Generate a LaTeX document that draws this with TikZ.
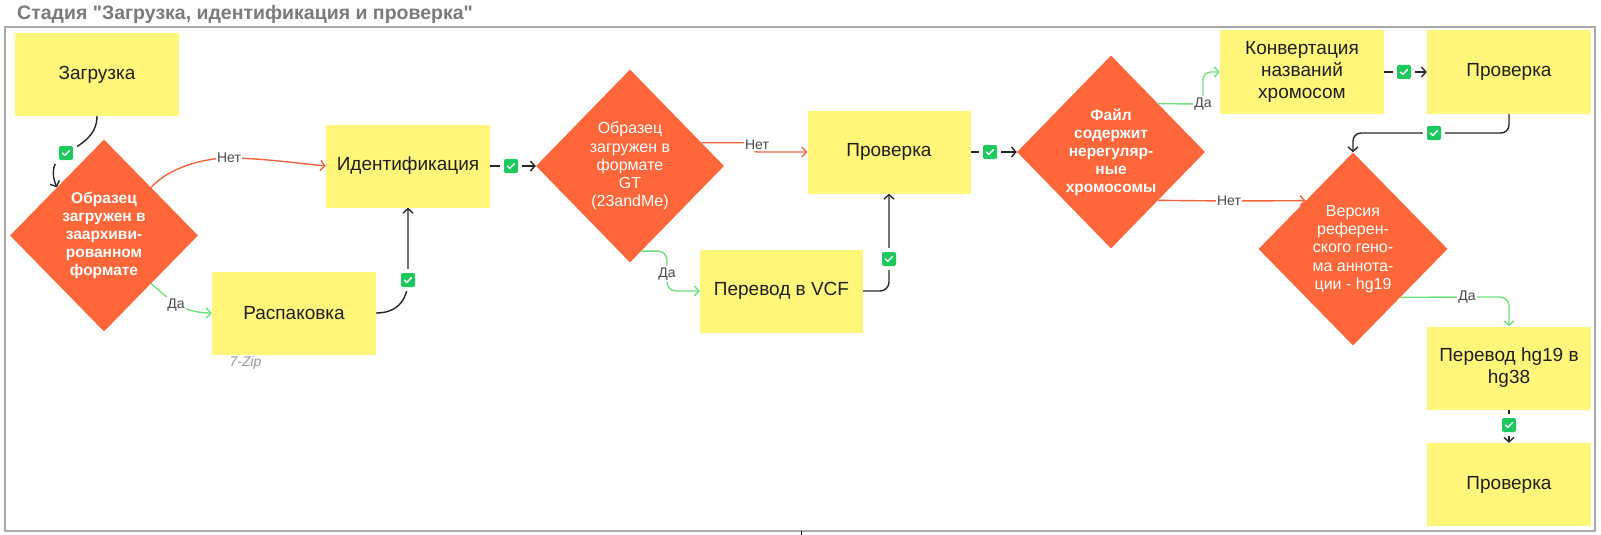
\documentclass[tikz,border=0pt]{standalone}
\usepackage{fontspec}
\setmainfont{Liberation Sans}[Ligatures=TeXOff]
\usetikzlibrary{arrows.meta,shapes.geometric,calc,backgrounds}
\definecolor{boxy}{HTML}{FFF67A}
\definecolor{diaor}{HTML}{FF673B}
\definecolor{lred}{HTML}{F0643F}
\definecolor{lgreen}{HTML}{6FE07C}
\definecolor{lblack}{HTML}{262626}
\definecolor{chkg}{HTML}{1DC95F}
\definecolor{ttl}{HTML}{7A7A7A}
\definecolor{frm}{HTML}{A8A8A8}
\definecolor{lbltxt}{HTML}{4A4A4A}
\begin{document}
\begin{tikzpicture}[x=1pt,y=-1pt,
  box/.style={rectangle, fill=boxy, minimum width=164pt, minimum height=83pt, inner sep=0pt, align=center, text=black!88, font=\fontsize{19}{22}\selectfont},
  dia/.style={diamond, fill=diaor, inner sep=0pt, minimum width=188pt, minimum height=193pt},
  dtxt/.style={text=white, align=center, font=\fontsize{16}{18.2}\selectfont},
  dtxtb/.style={text=white, align=center, font=\fontsize{15.5}{18}\selectfont\bfseries},
  conn/.style={line width=1.4pt, -{Straight Barb[length=4.5pt,width=10pt]}},
  cblack/.style={conn, draw=lblack},
  cred/.style={conn, draw=lred},
  cgreen/.style={conn, draw=lgreen},
  lbl/.style={fill=white, inner sep=1.5pt, text=lbltxt, font=\fontsize{14}{15}\selectfont},
  chk/.style={rectangle, fill=white, minimum width=22pt, minimum height=22pt, inner sep=0pt,
    path picture={
      \fill[chkg, rounded corners=2pt] ($(path picture bounding box.center)+(-7,-7)$) rectangle +(14,14);
      \draw[white, line width=1.4pt, line cap=round, line join=round]
        ($(path picture bounding box.center)+(-3.6,0)$) -- ++(2.4,2.4) -- ++(4.6,-4.8);
    }},
]
\useasboundingbox (0,0) rectangle (1601,535);

% title and frame
\node[anchor=base west, inner sep=0pt, text=ttl, font=\fontsize{19.5}{21}\selectfont\bfseries] (title) at (17,19.5) {Стадия "Загрузка, идентификация и проверка"};
\draw[frm, line width=2pt] (5,27) rectangle (1595,531);
\draw[black, line width=1pt] (801,531) -- (801,535);

% boxes
\node[box] (b1) at (97,74.5) {Загрузка};
\node[box] (id) at (408,166) {Идентификация};
\node[box] (rasp) at (294,313) {Распаковка};
\node[box, minimum width=163pt] (prov1) at (889,152) {Проверка};
\node[box, minimum width=163pt] (vcf) at (781.5,291) {Перевод в VCF};
\node[box] (konv) at (1302,72) {Конвертация\\названий\\хромосом};
\node[box] (prov2) at (1509,72) {Проверка};
\node[box] (hg) at (1509,368) {Перевод hg19 в\\hg38};
\node[box] (prov3) at (1509,484.5) {Проверка};

% diamonds
\node[dia, minimum height=192pt] (d1) at (104,235.5) {};
\node[dtxtb] (d1t) at (d1.center) {Образец\\загружен в\\заархиви-\\рованном\\формате};
\node[dia] (d2) at (630,166) {};
\node[dtxt] (d2t) at (d2.center) {Образец\\загружен в\\формате\\GT\\(23andMe)};
\node[dia] (d3) at (1111,152) {};
\node[dtxtb] (d3t) at (d3.center) {Файл\\содержит\\нерегуляр-\\ные\\хромосомы};
\node[dia, minimum width=189pt] (d4) at (1353,249) {};
\node[dtxt] (d4t) at (d4.center) {Версия\\референ-\\ского гено-\\ма аннота-\\ции - hg19};

% annotation
\node[text=black!40, font=\fontsize{14}{15}\selectfont\itshape] (zip) at (245.5,363) {7-Zip};

% labels
\node[lbl] (l1) at (229,158) {Нет};
\node[lbl] (l2) at (176,305) {Да};
\node[lbl] (l3) at (757,145) {Нет};
\node[lbl] (l4) at (667,274) {Да};
\node[lbl] (l5) at (1203,104) {Да};
\node[lbl] (l6) at (1229,201) {Нет};
\node[lbl] (l7) at (1467,297) {Да};

% checks
\node[chk] (c1) at (66,153) {};
\node[chk] (c2) at (408,280) {};
\node[chk] (c3) at (511,166) {};
\node[chk] (c4) at (889,259) {};
\node[chk] (c5) at (990,152) {};
\node[chk] (c6) at (1404,72) {};
\node[chk] (c7) at (1434,133) {};
\node[chk] (c8) at (1509,425) {};

\coordinate (d2a) at ($(d2.north)!0.76!(d2.east)$);

\begin{scope}[on background layer]
\draw[cblack] (b1.south) .. controls +(0,20) and +(14,-8) .. (c1.center) .. controls +(-14,8) and +(-6,-14) .. ($(d1.north)!0.5!(d1.west)$);
\draw[cred] ($(d1.north)!0.5!(d1.east)$) .. controls +(18,-20) and +(-25,0) .. (l1.center) .. controls +(30,0) and +(-30,-3) .. (id.west);
\draw[cgreen] ($(d1.south)!0.5!(d1.east)$) -- (l2.center) .. controls +(14,6) and +(-12,0) .. (rasp.west);
\draw[cblack] (rasp.east) .. controls +(24,0) and +(0,16) .. (c2.center) -- (id.south);
\draw[cblack] (id.east) -- (c3.center) -- (d2.west);
\draw[cred] (d2a) -- (l3.center |- d2a) .. controls +(7,0) and +(-7,0) .. (l3.center |- prov1.west) -- (prov1.west);
\draw[cgreen, rounded corners=9pt] ($(d2.south)!0.12!(d2.east)$) -| (l4.center) |- (vcf.west);
\draw[cblack, rounded corners=9pt] (vcf.east) -| (c4.center) -- (prov1.south);
\draw[cblack] (prov1.east) -- (c5.center) -- (d3.west);
\draw[cgreen, rounded corners=8pt] ($(d3.north)!0.5!(d3.east)$) -- (l5.center) |- (konv.west);
\draw[cblack] (konv.east) -- (c6.center) -- (prov2.west);
\draw[cblack, rounded corners=8pt] (prov2.south) |- (c7.center) -| (d4.north);
\draw[cred] ($(d3.south)!0.5!(d3.east)$) -- (l6.center) -- ($(d4.north)!0.5!(d4.west)$);
\draw[cgreen, rounded corners=9pt] ($(d4.south)!0.5!(d4.east)$) -- (l7.center) -| (hg.north);
\draw[cblack] (hg.south) -- (c8.center) -- (prov3.north);
\end{scope}
\end{tikzpicture}
\end{document}
